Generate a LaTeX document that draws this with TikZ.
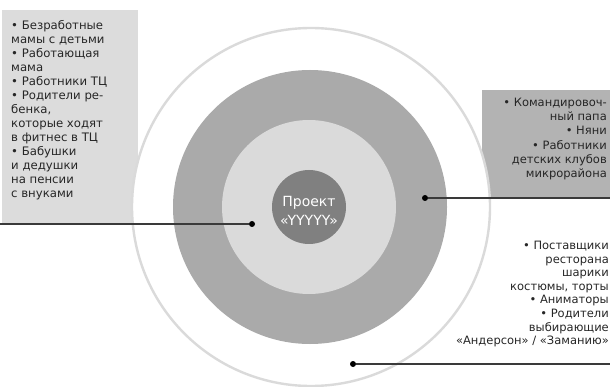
\documentclass[tikz,border=0pt]{standalone}
\usepackage{fontspec}
\setmainfont{DejaVu Sans}
\definecolor{txtc}{HTML}{262626}
\definecolor{linec}{HTML}{3A3A3A}
\definecolor{boxl}{HTML}{DCDCDC}
\definecolor{boxr}{HTML}{B3B3B3}
\definecolor{ringc}{HTML}{AAAAAA}
\definecolor{lightc}{HTML}{DADADA}
\definecolor{centerc}{HTML}{808080}
\definecolor{outline}{HTML}{DADADA}
\begin{document}
\begin{tikzpicture}[x=1pt,y=-1pt,
  txt/.style={text=txtc, inner sep=0pt},
  disc/.style={circle, inner sep=0pt},
  dot/.style={circle, fill=black, inner sep=0pt, minimum size=6pt},
  conn/.style={draw=linec, line width=1.1pt}]
\useasboundingbox (0,0) rectangle (610,387);
% boxes
\fill[boxl] (2,10) rectangle (138,224);
\fill[boxr] (482,90) rectangle (610,198);
% circles
\node[disc, fill=white, draw=outline, line width=2.4pt, minimum size=358pt] (outer) at (311,207) {};
\node[disc, fill=ringc, minimum size=274pt] (ring) at (310,207) {};
\node[disc, fill=lightc, minimum size=174pt] (inner) at (309,207) {};
\node[disc, fill=centerc, minimum size=74pt] (core) at (309,207) {};
\node[text=white, align=center, inner sep=0pt, font=\fontsize{14}{19}\selectfont] (title) at (309,211) {Проект\\«YYYYY»};
% texts
\node[txt, anchor=north west, align=left, font=\fontsize{11.7}{14}\selectfont] (lefttext) at (11,20)
 {• Безработные\\мамы с детьми\\• Работающая\\мама\\• Работники ТЦ\\• Родители ре-\\бенка,\\которые ходят\\в фитнес в ТЦ\\• Бабушки\\и дедушки\\на пенсии\\с внуками};
\node[txt, anchor=north east, align=right, font=\fontsize{11.5}{14.2}\selectfont] (righttext) at (607,98)
 {• Командировоч-\\ный папа\\• Няни\\• Работники\\детских клубов\\микрорайона};
\node[txt, anchor=north east, align=right, font=\fontsize{11.5}{13.6}\selectfont] (bottomtext) at (609,241)
 {• Поставщики\\ресторана\\шарики\\костюмы, торты\\• Аниматоры\\• Родители\\выбирающие\\«Андерсон» / «Заманию»};
% connectors
\node[dot] (ldot) at (252,224) {};
\node[dot] (rdot) at (425,198) {};
\node[dot] (bdot) at (353,364) {};
\coordinate (lend) at (0,224);
\coordinate (rend) at (610,198);
\coordinate (bend) at (610,364);
\draw[conn] (ldot) -- (lend);
\draw[conn] (rdot) -- (rend);
\draw[conn] (bdot) -- (bend);
\end{tikzpicture}
\end{document}
